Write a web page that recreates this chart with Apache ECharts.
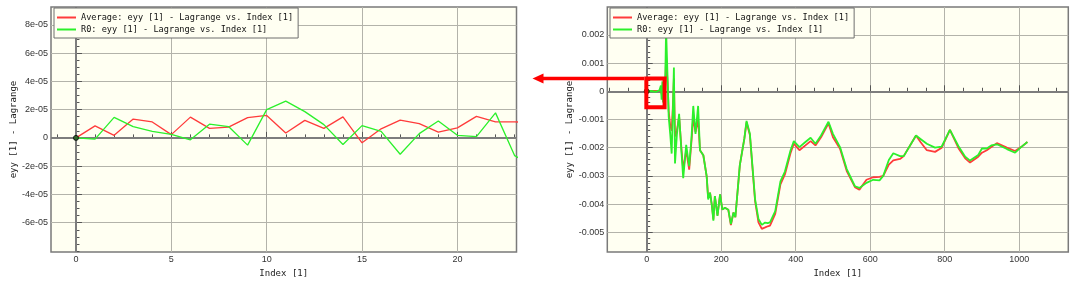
<!DOCTYPE html>
<html><head><meta charset="utf-8">
<script src="https://cdn.jsdelivr.net/npm/echarts@6/dist/echarts.min.js"></script>
<style>html,body{margin:0;padding:0;background:#fff}#c{width:1080px;height:283px}</style>
</head><body><div id="c"></div>
<script>
const seriesNames = ['Average: eyy [1] - Lagrange vs. Index [1]', 'R0: eyy [1] - Lagrange vs. Index [1]'];
const yAxisTitle = 'eyy [1] - Lagrange';
const xAxisTitle = 'Index [1]';

// Left (zoomed) chart
const leftIndex = [0,1,2,3,4,5,6,7,8,9,10,11,12,13,14,15,16,17,18,19,20,21,22,23,24];
const leftAverage = [0, 8.5e-6, 1.8e-6, 1.33e-5, 1.13e-5, 2.3e-6, 1.47e-5, 6.7e-6, 7.6e-6, 1.43e-5, 1.59e-5, 3.4e-6, 1.24e-5, 6.7e-6, 1.49e-5, -3.5e-6, 6.4e-6, 1.26e-5, 1.01e-5, 4.1e-6, 7.1e-6, 1.52e-5, 1.13e-5, 1.13e-5, 1.1e-5];
const leftR0 = [0, -9e-7, 1.45e-5, 8.0e-6, 4.6e-6, 2.5e-6, -1.4e-6, 9.7e-6, 8.0e-6, -5.1e-6, 2.0e-5, 2.6e-5, 1.86e-5, 9.4e-6, -4.7e-6, 8.7e-6, 4.6e-6, -1.16e-5, 3.0e-6, 1.2e-5, 1.8e-6, 9e-7, 1.77e-5, -1.25e-5, -2.0e-5];

// Right (full) chart
const rightIndex = [0,12,24,34,38,40,42,44,46,48,50,52,56,59,63,67,70,73,76,81,87,93,98,106,114,120,125,131,138,143,152,161,165,170,175,179,183,190,197,203,210,219,226,233,238,250,262,268,277,291,300,309,318,325,331,345,359,371,386,395,410,426,440,453,468,488,500,519,537,559,571,590,608,625,635,650,662,680,690,723,735,752,774,792,814,837,855,868,890,900,913,925,940,967,989,1005,1022];
const rightAverage = [0,0.00001,0.00001,0.00002,0.0001,-0.0001,0.00015,-0.0002,0.00005,-0.00025,0.00035,0.00122,0.0003,-0.0007,-0.0012,-0.0014,-0.0006,0.00045,-0.0016,-0.0014,-0.0009,-0.002,-0.00279,-0.0021,-0.00278,-0.0018,-0.00093,-0.00145,-0.001,-0.00209,-0.00227,-0.00302,-0.00378,-0.0036,-0.00405,-0.00455,-0.00372,-0.0044,-0.00366,-0.0042,-0.00413,-0.0042,-0.00475,-0.0043,-0.00447,-0.00262,-0.00169,-0.0011,-0.00155,-0.0039,-0.00465,-0.00488,-0.00483,-0.00479,-0.00477,-0.00435,-0.0033,-0.00295,-0.0022,-0.00186,-0.00209,-0.00192,-0.00177,-0.00192,-0.00163,-0.00114,-0.00163,-0.00204,-0.00283,-0.0034,-0.00349,-0.00314,-0.00305,-0.00304,-0.003,-0.0026,-0.00245,-0.0024,-0.0023,-0.00157,-0.0018,-0.00209,-0.00215,-0.002,-0.00137,-0.00202,-0.00238,-0.00253,-0.00232,-0.00218,-0.00209,-0.00198,-0.00184,-0.002,-0.00212,-0.00198,-0.0018];
const rightR0 = [0,0.00001,-0.00002,0.00003,0.0002,-0.0003,0.00035,-0.0004,0.00025,-0.00046,0.0006,0.0022,0.0005,-0.0009,-0.0015,-0.00221,-0.0008,0.00084,-0.00256,-0.00155,-0.0008,-0.0021,-0.00308,-0.0019,-0.00266,-0.0017,-0.00052,-0.00151,-0.00052,-0.00209,-0.00227,-0.00302,-0.00384,-0.0036,-0.00407,-0.00459,-0.00372,-0.00442,-0.00366,-0.0042,-0.00413,-0.0042,-0.00471,-0.0043,-0.00447,-0.00262,-0.00169,-0.00105,-0.00151,-0.00384,-0.00453,-0.00474,-0.00466,-0.00468,-0.00465,-0.00425,-0.0032,-0.00285,-0.0021,-0.00177,-0.00198,-0.0018,-0.00165,-0.00186,-0.00157,-0.00108,-0.00151,-0.00198,-0.00276,-0.00337,-0.00343,-0.00325,-0.00314,-0.00316,-0.003,-0.00244,-0.0022,-0.0023,-0.0023,-0.00157,-0.00169,-0.00186,-0.002,-0.00196,-0.00137,-0.00195,-0.00232,-0.00246,-0.00226,-0.00203,-0.00203,-0.00192,-0.00188,-0.00205,-0.00218,-0.00198,-0.0018];

// Axis ticks and labels
const leftXRange = [-1.31, 23.1];
const leftYRange = [-8.08e-5, 9.26e-5];
const leftXTicks = [0, 5, 10, 15, 20];
const leftXTickLabels = ['0', '5', '10', '15', '20'];
const leftYTicks = [-6e-5, -4e-5, -2e-5, 0, 2e-5, 4e-5, 6e-5, 8e-5];
const leftYTickLabels = ['-6e-05', '-4e-05', '-2e-05', '0', '2e-05', '4e-05', '6e-05', '8e-05'];
const rightXRange = [-105.8, 1131.8];
const rightYRange = [-0.005706, 0.00299];
const rightXTicks = [0, 200, 400, 600, 800, 1000];
const rightXTickLabels = ['0', '200', '400', '600', '800', '1000'];
const rightYTicks = [-0.005, -0.004, -0.003, -0.002, -0.001, 0, 0.001, 0.002];
const rightYTickLabels = ['-0.005', '-0.004', '-0.003', '-0.002', '-0.001', '0', '0.001', '0.002'];
const minorSteps = { leftX: 1, leftY: 5e-6, rightX: 50, rightY: 0.0002 };

// Zoomed region highlighted on the right chart (index, value)
const highlightBox = [[-1, 0.00045], [48, -0.00057]];

function minorList(range, step) {
  const out = [];
  for (let k = Math.ceil(range[0] / step); k * step <= range[1]; k++) out.push(+(k * step).toPrecision(10));
  return out;
}
function labelFor(ticks, labels) {
  return v => { let bi = 0, bd = Infinity; ticks.forEach((t, i) => { const d = Math.abs(t - v); if (d < bd) { bd = d; bi = i; } }); return labels[bi]; };
}
const zip = (xs, ys) => xs.map((x, i) => [x, ys[i]]);

const RED = '#ff3b3b', GREEN = '#2bf02b';
const MONO = 'DejaVu Sans Mono';
const grids = [
  { left: 51, top: 7, width: 465.5, height: 248.7 },
  { left: 607.3, top: 7, width: 461, height: 248.3 }
];

function axisPair(dim, gridIndex, range, ticks, labels, minorStep, nameCfg) {
  const major = {
    type: 'value', gridIndex, min: range[0], max: range[1],
    position: dim === 'x' ? 'bottom' : 'left',
    axisLine: { show: false },
    axisTick: { show: true, inside: true, length: 6, customValues: ticks, lineStyle: { color: '#555', width: 1 } },
    axisLabel: { show: true, customValues: ticks, formatter: labelFor(ticks, labels), margin: 3,
      fontFamily: 'Liberation Sans', fontSize: 9, color: '#333' },
    splitLine: { show: true, lineStyle: { color: '#b3b3aa', width: 1 } },
    minorTick: { show: false }, minorSplitLine: { show: false }
  };
  Object.assign(major, nameCfg);
  const minor = {
    type: 'value', gridIndex, min: range[0], max: range[1],
    position: dim === 'x' ? 'bottom' : 'left',
    axisLine: { show: false },
    axisTick: { show: true, inside: true, length: 3.5, customValues: minorList(range, minorStep), lineStyle: { color: '#555', width: 1 } },
    axisLabel: { show: false }, splitLine: { show: false }
  };
  return [major, minor];
}

const xNameCfg = { name: xAxisTitle, nameLocation: 'middle', nameGap: 10, nameTextStyle: { fontFamily: MONO, fontSize: 9, color: '#222' } };
const yNameCfg = { name: yAxisTitle, nameLocation: 'middle', nameGap: 33, nameTextStyle: { fontFamily: MONO, fontSize: 9, color: '#222' } };

const xAxes = [
  ...axisPair('x', 0, leftXRange, leftXTicks, leftXTickLabels, minorSteps.leftX, xNameCfg),
  ...axisPair('x', 1, rightXRange, rightXTicks, rightXTickLabels, minorSteps.rightX, xNameCfg)
];
const yAxes = [
  ...axisPair('y', 0, leftYRange, leftYTicks, leftYTickLabels, minorSteps.leftY, yNameCfg),
  ...axisPair('y', 1, rightYRange, rightYTicks, rightYTickLabels, minorSteps.rightY, yNameCfg)
];

function zeroSeries(ax) {
  return {
    type: 'line', xAxisIndex: ax, yAxisIndex: ax, data: [[0, 0]], symbol: 'none', z: 1, silent: true,
    lineStyle: { opacity: 0 },
    markLine: { silent: true, symbol: 'none', z: 1, label: { show: false }, animation: false,
      lineStyle: { color: '#7d7d7d', width: 2, type: 'solid' },
      data: [{ yAxis: 0 }, { xAxis: 0 }] }
  };
}
function dataSeries(ax, name, xs, ys, color, width, extra) {
  return Object.assign({
    type: 'line', name, xAxisIndex: ax, yAxisIndex: ax, data: zip(xs, ys),
    symbol: 'none', z: 2, animation: false, lineStyle: { color, width }, itemStyle: { color }
  }, extra || {});
}
function originMarker(ax, xs, ys) {
  return { type: 'scatter', xAxisIndex: ax, yAxisIndex: ax, data: [[xs[0], ys[0]]], symbol: 'circle', symbolSize: 5, z: 3,
    silent: true, itemStyle: { color: '#1d5c1d', borderColor: '#000', borderWidth: 1 } };
}

const legendBase = {
  orient: 'vertical', top: 8, padding: [4, 5, 3, 3], itemGap: 1, itemWidth: 19, itemHeight: 2, icon: 'rect',
  backgroundColor: '#fffff2', borderColor: '#6f6f6f', borderWidth: 1,
  textStyle: { fontFamily: MONO, fontSize: 8.6, color: '#111', lineHeight: 11 }, data: seriesNames, selectedMode: false
};

const chart = echarts.init(document.getElementById('c'), null, { renderer: 'canvas' });
chart.setOption({
  backgroundColor: '#ffffff',
  animation: false,
  grid: grids.map(g => Object.assign({ show: true, backgroundColor: '#fffff2', borderColor: '#7a7a7a', borderWidth: 1.5, containLabel: false }, g)),
  xAxis: xAxes,
  yAxis: yAxes,
  legend: [Object.assign({ left: 54 }, legendBase), Object.assign({ left: 610 }, legendBase)],
  series: [
    zeroSeries(0),
    dataSeries(0, seriesNames[0], leftIndex, leftAverage, RED, 1.3),
    dataSeries(0, seriesNames[1], leftIndex, leftR0, GREEN, 1.3),
    originMarker(0, leftIndex, leftR0),
    zeroSeries(2),
    dataSeries(2, seriesNames[0], rightIndex, rightAverage, RED, 1.8),
    dataSeries(2, seriesNames[1], rightIndex, rightR0, GREEN, 1.8, {
      markArea: { silent: true, z: 4, itemStyle: { color: 'rgba(0,0,0,0)', borderColor: '#ff0000', borderWidth: 4 },
        data: [[{ coord: highlightBox[0] }, { coord: highlightBox[1] }]] }
    }),
    originMarker(2, rightIndex, rightR0)
  ]
});

// Arrow from the highlighted region towards the zoomed chart
const boxTL = chart.convertToPixel({ xAxisIndex: 2, yAxisIndex: 2 }, highlightBox[0]);
const leftPlotRight = chart.convertToPixel({ xAxisIndex: 0 }, leftXRange[1]);
const tipX = leftPlotRight + 16;
const ay = boxTL[1];
chart.setOption({
  graphic: [
    { type: 'line', z: 10, shape: { x1: boxTL[0] - 2, y1: ay, x2: tipX + 8, y2: ay }, style: { stroke: '#ff0000', lineWidth: 3.5 } },
    { type: 'polygon', z: 10, shape: { points: [[tipX, ay], [tipX + 11, ay - 5], [tipX + 11, ay + 5]] }, style: { fill: '#ff0000' } }
  ]
});
</script>
</body></html>
